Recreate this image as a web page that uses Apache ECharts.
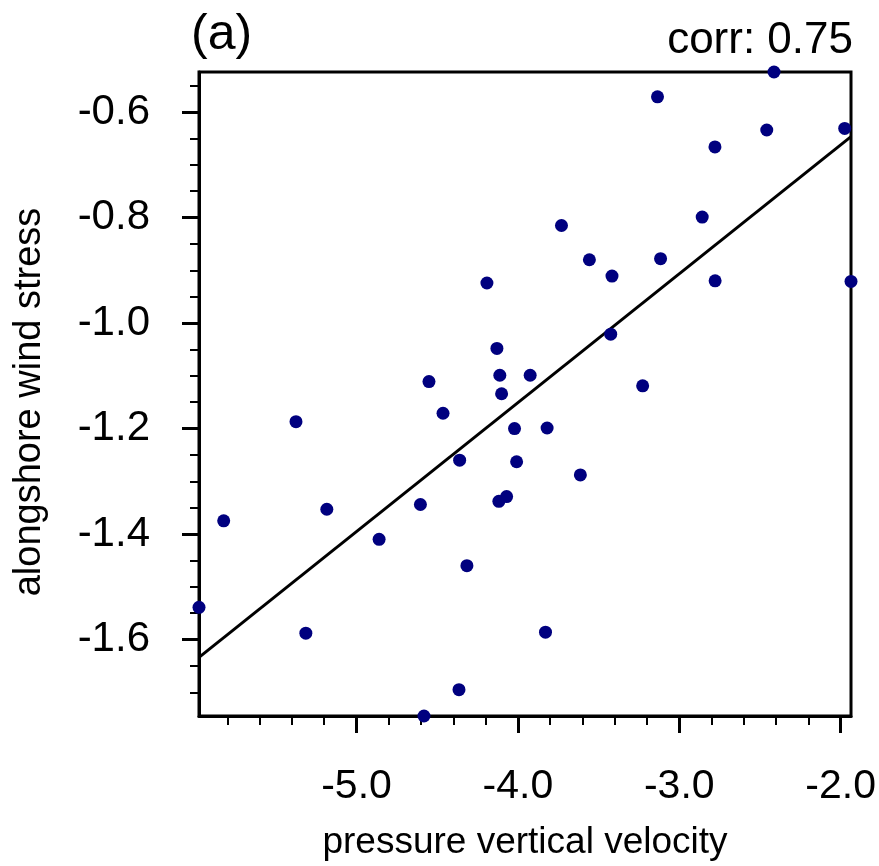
<!DOCTYPE html>
<html>
<head>
<meta charset="utf-8">
<script src="https://cdn.jsdelivr.net/npm/echarts@6/dist/echarts.min.js"></script>
<style>
  html, body { margin: 0; padding: 0; background: #fff; }
  #chart { width: 879px; height: 866px; }
</style>
</head>
<body>
<div id="chart"></div>
<script>
// pressure vertical velocity (x) vs alongshore wind stress (y)
const velocity = [
  -2.413, -3.135, -2.779, -2.458, -1.975, -1.936, -4.192, -3.730, -3.557, -3.417,
  -3.116, -2.858, -2.778, -3.425, -4.130, -4.112, -3.924, -4.101, -3.227, -4.021,
  -3.819, -4.008, -3.613, -4.118, -4.070, -4.551, -4.464, -5.375, -4.361, -4.604,
  -5.184, -5.823, -4.860, -4.316, -5.976, -5.314, -4.582, -4.365, -3.829,
]
const windStress = [
  -0.524, -0.571, -0.666, -0.634, -0.631, -0.921, -0.924, -0.815, -0.880, -0.911,
  -0.878, -0.799, -0.920, -1.021, -1.048, -1.099, -1.099, -1.134, -1.119, -1.200,
  -1.199, -1.263, -1.288, -1.338, -1.329, -1.111, -1.171, -1.187, -1.260, -1.344,
  -1.353, -1.375, -1.410, -1.460, -1.539, -1.588, -1.745, -1.695, -1.586,
]

const xMajorTicks = [-5, -4, -3, -2]
const xMinorTicks = [-5.8, -5.6, -5.4, -5.2, -4.8, -4.6, -4.4, -4.2, -3.8, -3.6, -3.4, -3.2, -2.8, -2.6, -2.4, -2.2]
const yMajorTicks = [-1.6, -1.4, -1.2, -1.0, -0.8, -0.6]
const yMinorTicks = [-1.7, -1.65, -1.55, -1.5, -1.45, -1.35, -1.3, -1.25, -1.15, -1.1, -1.05,
  -0.95, -0.9, -0.85, -0.75, -0.7, -0.65, -0.55]

const corrText = 'corr: 0.75'

const FONT = '"Liberation Sans", Arial, Helvetica, sans-serif'

// least squares fit
const n = velocity.length
const mx = velocity.reduce((a, b) => a + b, 0) / n
const my = windStress.reduce((a, b) => a + b, 0) / n
let sxy = 0
let sxx = 0
for (let i = 0; i < n; i++) {
  sxy += (velocity[i] - mx) * (windStress[i] - my)
  sxx += (velocity[i] - mx) ** 2
}
const slope = sxy / sxx
const icept = my - slope * mx

const xMin = Math.min(...velocity)
const xMax = Math.max(...velocity)
const yMin = Math.min(...windStress)
const yMax = Math.max(...windStress)

const points = velocity.map((v, i) => [v, windStress[i]])
const fitLine = [xMin, xMax].map((v) => [v, icept + slope * v])

const axisCommon = {
  type: 'value',
  scale: true,
  splitLine: { show: false },
  axisLine: { onZero: false },
}

const chart = echarts.init(document.getElementById('chart'))

chart.setOption({
  animation: false,
  backgroundColor: '#fff',
  title: [
    {
      text: '(a)',
      left: 186,
      top: 5,
      textStyle: { fontFamily: FONT, fontSize: 50, fontWeight: 'normal', color: '#000' },
    },
    {
      text: corrText,
      right: 21,
      top: 14,
      textStyle: { fontFamily: FONT, fontSize: 44, fontWeight: 'normal', color: '#000' },
    },
  ],
  grid: {
    left: 199,
    right: 27,
    top: 72,
    bottom: 142,
    show: true,
    borderColor: '#000',
    borderWidth: 3,
  },
  xAxis: [
    {
      ...axisCommon,
      min: xMin,
      max: xMax,
      position: 'bottom',
      name: 'pressure vertical velocity',
      nameLocation: 'middle',
      nameGap: 108,
      nameTextStyle: { fontFamily: FONT, fontSize: 37, color: '#000' },
      axisLine: { show: true, onZero: false, lineStyle: { color: '#000', width: 3 } },
      axisTick: { show: true, customValues: xMajorTicks, length: 17, lineStyle: { color: '#000', width: 3 } },
      axisLabel: {
        customValues: xMajorTicks,
        formatter: (v) => v.toFixed(1),
        fontFamily: FONT,
        fontSize: 41,
        color: '#000',
        margin: 50,
      },
    },
    {
      ...axisCommon,
      min: xMin,
      max: xMax,
      position: 'bottom',
      axisLine: { show: false, onZero: false },
      axisTick: { show: true, customValues: xMinorTicks, length: 9, lineStyle: { color: '#000', width: 2 } },
      axisLabel: { show: false },
    },
  ],
  yAxis: [
    {
      ...axisCommon,
      min: yMin,
      max: yMax,
      position: 'left',
      name: 'alongshore wind stress',
      nameLocation: 'middle',
      nameGap: 150,
      nameTextStyle: { fontFamily: FONT, fontSize: 38, color: '#000', padding: [0, 16, 0, 0] },
      axisLine: { show: true, onZero: false, lineStyle: { color: '#000', width: 3 } },
      axisTick: { show: true, customValues: yMajorTicks, length: 17, lineStyle: { color: '#000', width: 3 } },
      axisLabel: {
        customValues: yMajorTicks,
        formatter: (v) => v.toFixed(1),
        fontFamily: FONT,
        fontSize: 42,
        color: '#000',
        margin: 49,
      },
    },
    {
      ...axisCommon,
      min: yMin,
      max: yMax,
      position: 'left',
      axisLine: { show: false, onZero: false },
      axisTick: { show: true, customValues: yMinorTicks, length: 9, lineStyle: { color: '#000', width: 2 } },
      axisLabel: { show: false },
    },
  ],
  series: [
    {
      type: 'line',
      data: fitLine,
      symbol: 'none',
      clip: false,
      lineStyle: { color: '#000', width: 3 },
      z: 2,
    },
    {
      type: 'scatter',
      data: points,
      symbol: 'circle',
      symbolSize: 13,
      clip: false,
      itemStyle: { color: '#00007f', opacity: 1 },
      z: 3,
    },
  ],
})
</script>
</body>
</html>
